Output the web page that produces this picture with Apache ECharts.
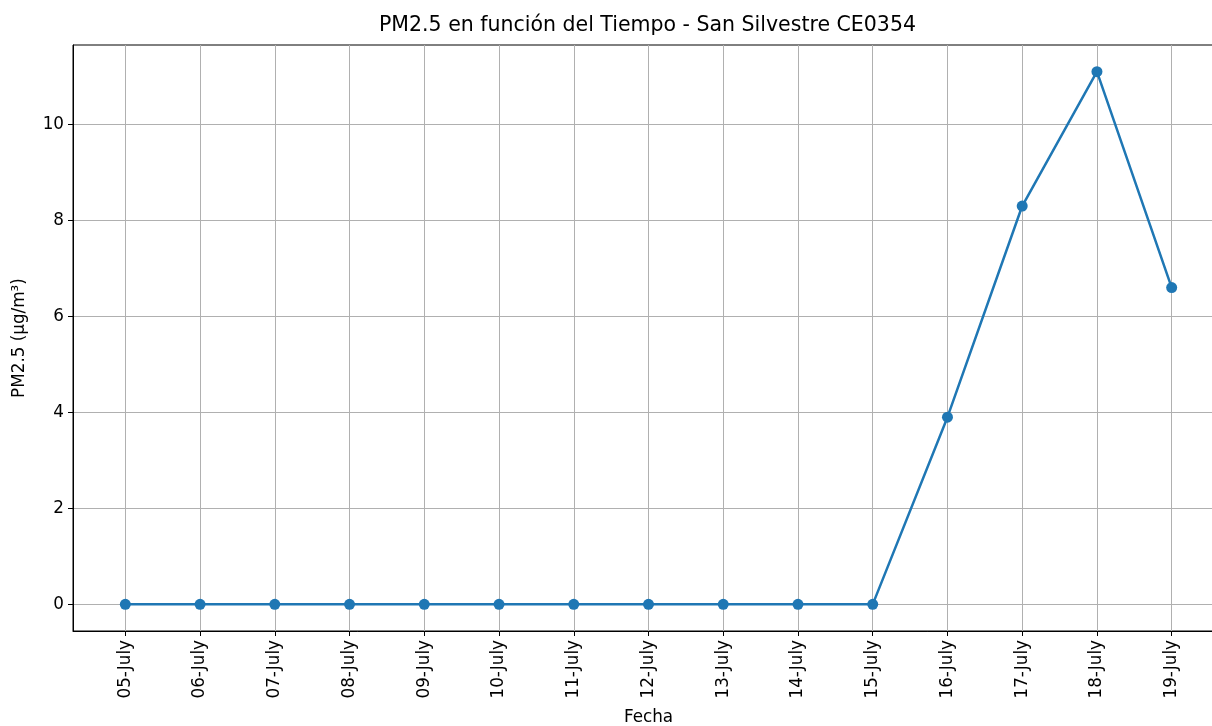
<!DOCTYPE html>
<html>
<head>
<meta charset="utf-8">
<title>PM2.5 San Silvestre</title>
<script src="https://cdn.jsdelivr.net/npm/echarts@6/dist/echarts.min.js"></script>
<style>
  html, body { margin: 0; padding: 0; background: #fff; }
  #chart { width: 1212px; height: 726px; }
</style>
</head>
<body>
<div id="chart"></div>
<script>
// datos
const fechas = ['05-July', '06-July', '07-July', '08-July', '09-July', '10-July', '11-July',
  '12-July', '13-July', '14-July', '15-July', '16-July', '17-July', '18-July', '19-July']
const pm25 = [0, 0, 0, 0, 0, 0, 0, 0, 0, 0, 0, 3.9, 8.3, 11.1, 6.6]
const yTicks = [0, 2, 4, 6, 8, 10]

const font = 'DejaVu Sans'
const chart = echarts.init(document.getElementById('chart'))

const xTicks = fechas.map((f, i) => i)

const option = {
  animation: false,
  title: {
    text: 'PM2.5 en función del Tiempo - San Silvestre CE0354',
    left: 379,
    top: 15,
    padding: 0,
    textStyle: { fontFamily: font, fontSize: 20.5, fontWeight: 'normal', color: '#000' }
  },
  grid: {
    left: 73,
    top: 45,
    width: 1151,
    height: 586,
    outerBoundsMode: 'none',
    containLabel: false,
    show: true,
    borderColor: '#000',
    borderWidth: 1
  },
  xAxis: {
    type: 'value',
    min: -0.7,
    max: 14.7,
    name: 'Fecha',
    nameLocation: 'middle',
    nameGap: 78,
    nameTextStyle: { fontFamily: font, fontSize: 16.8, color: '#000' },
    axisLine: { show: true, onZero: false, lineStyle: { color: '#000', width: 1 } },
    axisTick: { show: true, length: 5, customValues: xTicks, lineStyle: { color: '#000' } },
    axisLabel: {
      customValues: xTicks,
      rotate: 90,
      margin: 9,
      fontFamily: font,
      fontSize: 16.8,
      color: '#000',
      formatter: v => fechas[v]
    },
    splitLine: { show: true, lineStyle: { color: '#b0b0b0', width: 1 } }
  },
  yAxis: {
    type: 'value',
    min: -0.555,
    max: 11.655,
    name: 'PM2.5 (µg/m³)',
    nameLocation: 'middle',
    nameGap: 45,
    nameTextStyle: { fontFamily: font, fontSize: 16.8, color: '#000' },
    axisLine: { show: true, onZero: false, lineStyle: { color: '#000', width: 1 } },
    axisTick: { show: true, length: 5, customValues: yTicks, lineStyle: { color: '#000' } },
    axisLabel: { customValues: yTicks, margin: 9, fontFamily: font, fontSize: 16.8, color: '#000' },
    splitLine: { show: true, lineStyle: { color: '#b0b0b0', width: 1 } }
  },
  series: [{
    type: 'line',
    data: pm25.map((v, i) => [i, v]),
    symbol: 'circle',
    symbolSize: 11,
    lineStyle: { color: '#1f77b4', width: 2.5 },
    itemStyle: { color: '#1f77b4' }
  }]
}

chart.setOption(option)
</script>
</body>
</html>
